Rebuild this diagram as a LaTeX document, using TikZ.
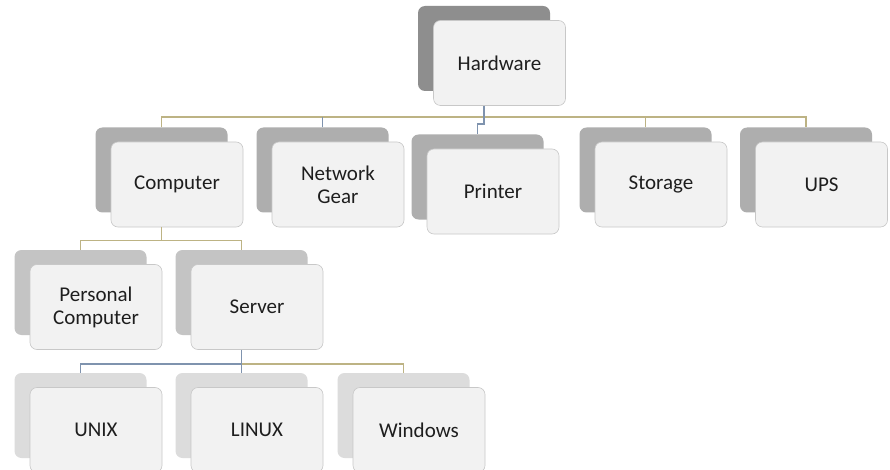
\documentclass[tikz,border=0pt]{standalone}
\usepackage{fontspec}
\setmainfont{Carlito}
\usetikzlibrary{calc}
\definecolor{frontfill}{HTML}{F2F2F2}
\definecolor{frontline}{HTML}{C8C8C8}
\definecolor{shA}{HTML}{8E8E8E}
\definecolor{shB}{HTML}{AEAEAE}
\definecolor{shC}{HTML}{C4C4C4}
\definecolor{shD}{HTML}{DCDCDC}
\definecolor{tanline}{HTML}{BDB384}
\definecolor{blueline}{HTML}{7F93AE}
\definecolor{txt}{HTML}{1E1E1E}
\tikzset{
  card/.style={draw=frontline, line width=0.6pt, fill=frontfill, rounded corners=7pt,
    minimum width=132pt, minimum height=85pt, inner sep=0pt, align=center,
    text=txt, font=\fontsize{21}{23}\selectfont},
  shade/.style={fill=#1, rounded corners=7pt, minimum width=132pt, minimum height=85pt, inner sep=0pt},
  tanconn/.style={draw=tanline, line width=1.6pt},
  blueconn/.style={draw=blueline, line width=1.6pt},
}
\newcommand\orgcard[5]{%
  \node[shade=#4] (#1-s) at (#2-15.5,#3-14.5) {};
  \node[card] (#1) at (#2,#3) {#5};
}
\begin{document}
\begin{tikzpicture}[x=1pt,y=-1pt]
\useasboundingbox (0,0) rectangle (890,470);
\fill[white] (0,0) rectangle (890,470);
% level 1
\orgcard{hw}{499.5}{63}{shA}{Hardware}
% level 2
\orgcard{comp}{177}{184.5}{shB}{Computer}
\orgcard{net}{338}{184.5}{shB}{Network\\Gear}
\orgcard{prt}{493}{191.5}{shB}{Printer}
\orgcard{sto}{661}{184.5}{shB}{Storage}
\orgcard{ups}{821.5}{184.5}{shB}{UPS}
% level 3
\orgcard{pc}{96}{307}{shC}{Personal\\Computer}
\orgcard{srv}{257}{307}{shC}{Server}
% level 4
\orgcard{unix}{96}{430}{shD}{UNIX}
\orgcard{linux}{257}{430}{shD}{LINUX}
\orgcard{win}{419}{430}{shD}{Windows}
% connectors level 1 -> 2
\coordinate (hwbar) at ($(hw.south)+(-14,11.5)$);
\draw[tanconn] (comp-s.north) |- (hwbar) -| (ups-s.north);
\draw[blueconn] (net-s.north) -- (net-s.north |- hwbar);
\draw[tanconn] (sto-s.north) -- (sto-s.north |- hwbar);
\draw[blueconn] (hw.south -| hw-s.south) -- ++(0,18) -| (prt-s.north);
% level 2 -> 3
\coordinate (compbar) at ($(comp.south -| comp-s.south)+(0,13)$);
\draw[tanconn] (comp.south -| comp-s.south) -- (compbar);
\draw[tanconn] (pc-s.north) |- (compbar) -| (srv-s.north);
% level 3 -> 4
\coordinate (srvbar) at ($(srv.south -| srv-s.south)+(0,14)$);
\draw[blueconn] (srv.south -| srv-s.south) -- (srvbar);
\draw[blueconn] (unix-s.north) |- (srvbar) -- (linux-s.north);
\draw[tanconn] (srvbar) -| (win-s.north);
\end{tikzpicture}
\end{document}
